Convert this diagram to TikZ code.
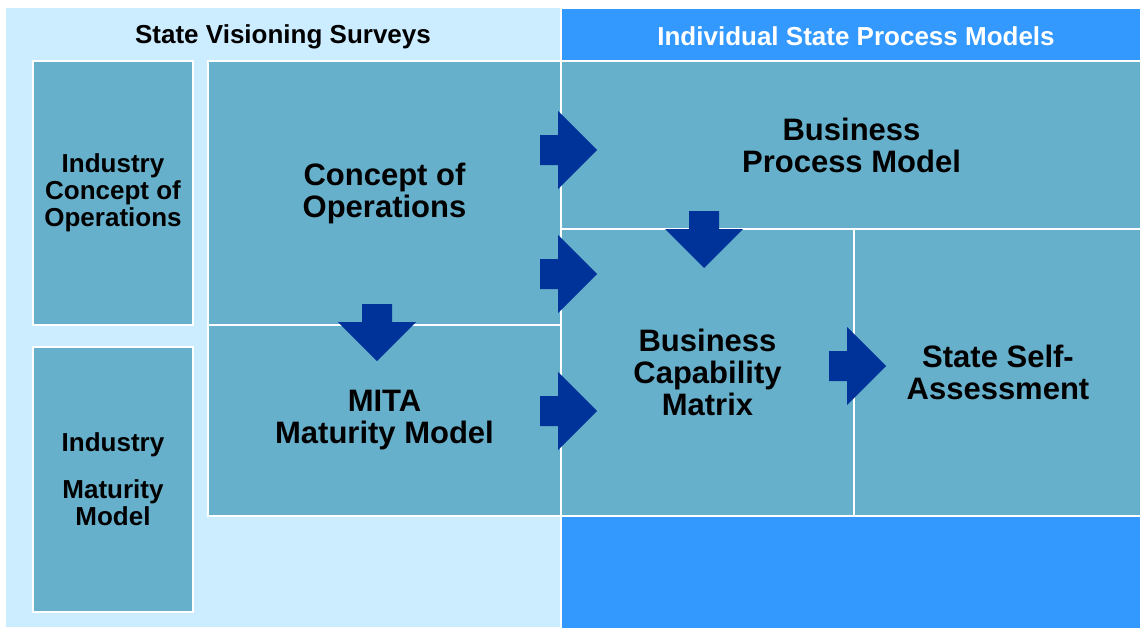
\documentclass[tikz,border=0pt]{standalone}
\usepackage{fontspec}
\setmainfont{Liberation Sans}
\definecolor{lightpanel}{RGB}{204,236,255}
\definecolor{darkpanel}{RGB}{51,153,255}
\definecolor{boxfill}{RGB}{102,176,204}
\definecolor{arrowblue}{RGB}{0,51,153}
\tikzset{
  box/.style={draw=white, line width=2pt, fill=boxfill, inner sep=0pt, outer sep=0pt,
    anchor=north west, align=center, text=black},
  bigtxt/.style={font=\bfseries\fontsize{31}{32}\selectfont},
  smalltxt/.style={font=\bfseries\fontsize{26}{27}\selectfont},
  headtxt/.style={font=\bfseries\fontsize{26}{27}\selectfont},
  rarrow/.pic={\fill[arrowblue] (0,-15) -- (18,-15) -- (18,-39) -- (57,0) -- (18,39) -- (18,15) -- (0,15) -- cycle;},
  darrow/.pic={\fill[arrowblue] (-15,0) -- (-15,18) -- (-39,18) -- (0,57) -- (39,18) -- (15,18) -- (15,0) -- cycle;}
}
\begin{document}
\begin{tikzpicture}[x=1pt,y=-1pt]
\useasboundingbox (0,0) rectangle (1140,627);
\fill[white] (0,0) rectangle (1140,627);
% panels
\fill[lightpanel] (6,8) rectangle (561,627);
\draw[fill=darkpanel, draw=white, line width=2pt] (561,8) rectangle (1142,629);
\node[headtxt, text=black] (h1) at (283,37) {State Visioning Surveys};
\node[headtxt, text=white] (h2) at (856,36) {Individual State Process Models};
% boxes
\node[box, smalltxt, minimum width=160pt, minimum height=264pt] (icon) at (33,61) {Industry\\Concept of\\Operations};
\node[box, smalltxt, minimum width=160pt, minimum height=265pt] (imm) at (33,347) {Industry\\[20pt]Maturity\\Model};
\node[box, bigtxt, minimum width=353pt, minimum height=264pt] (conops) at (208,61) {\raisebox{-2pt}{\parbox{300pt}{\centering Concept of\\Operations}}};
\node[box, bigtxt, minimum width=353pt, minimum height=191pt] (mita) at (208,325) {\raisebox{-2pt}{\parbox{300pt}{\centering MITA\\Maturity Model}}};
\node[box, bigtxt, minimum width=581pt, minimum height=168pt] (bpm) at (561,61) {Business\\Process Model};
\node[box, bigtxt, minimum width=293pt, minimum height=287pt] (bcm) at (561,229) {Business\\Capability\\Matrix};
\node[box, bigtxt, minimum width=288pt, minimum height=287pt] (ssa) at (854,229) {State Self-\\Assessment};
% arrows
\pic at (540,150) {rarrow};
\pic at (540,274) {rarrow};
\pic at (540,411) {rarrow};
\pic at (829,366) {rarrow};
\pic at (377,304) {darrow};
\pic at (704,211) {darrow};
\end{tikzpicture}
\end{document}
